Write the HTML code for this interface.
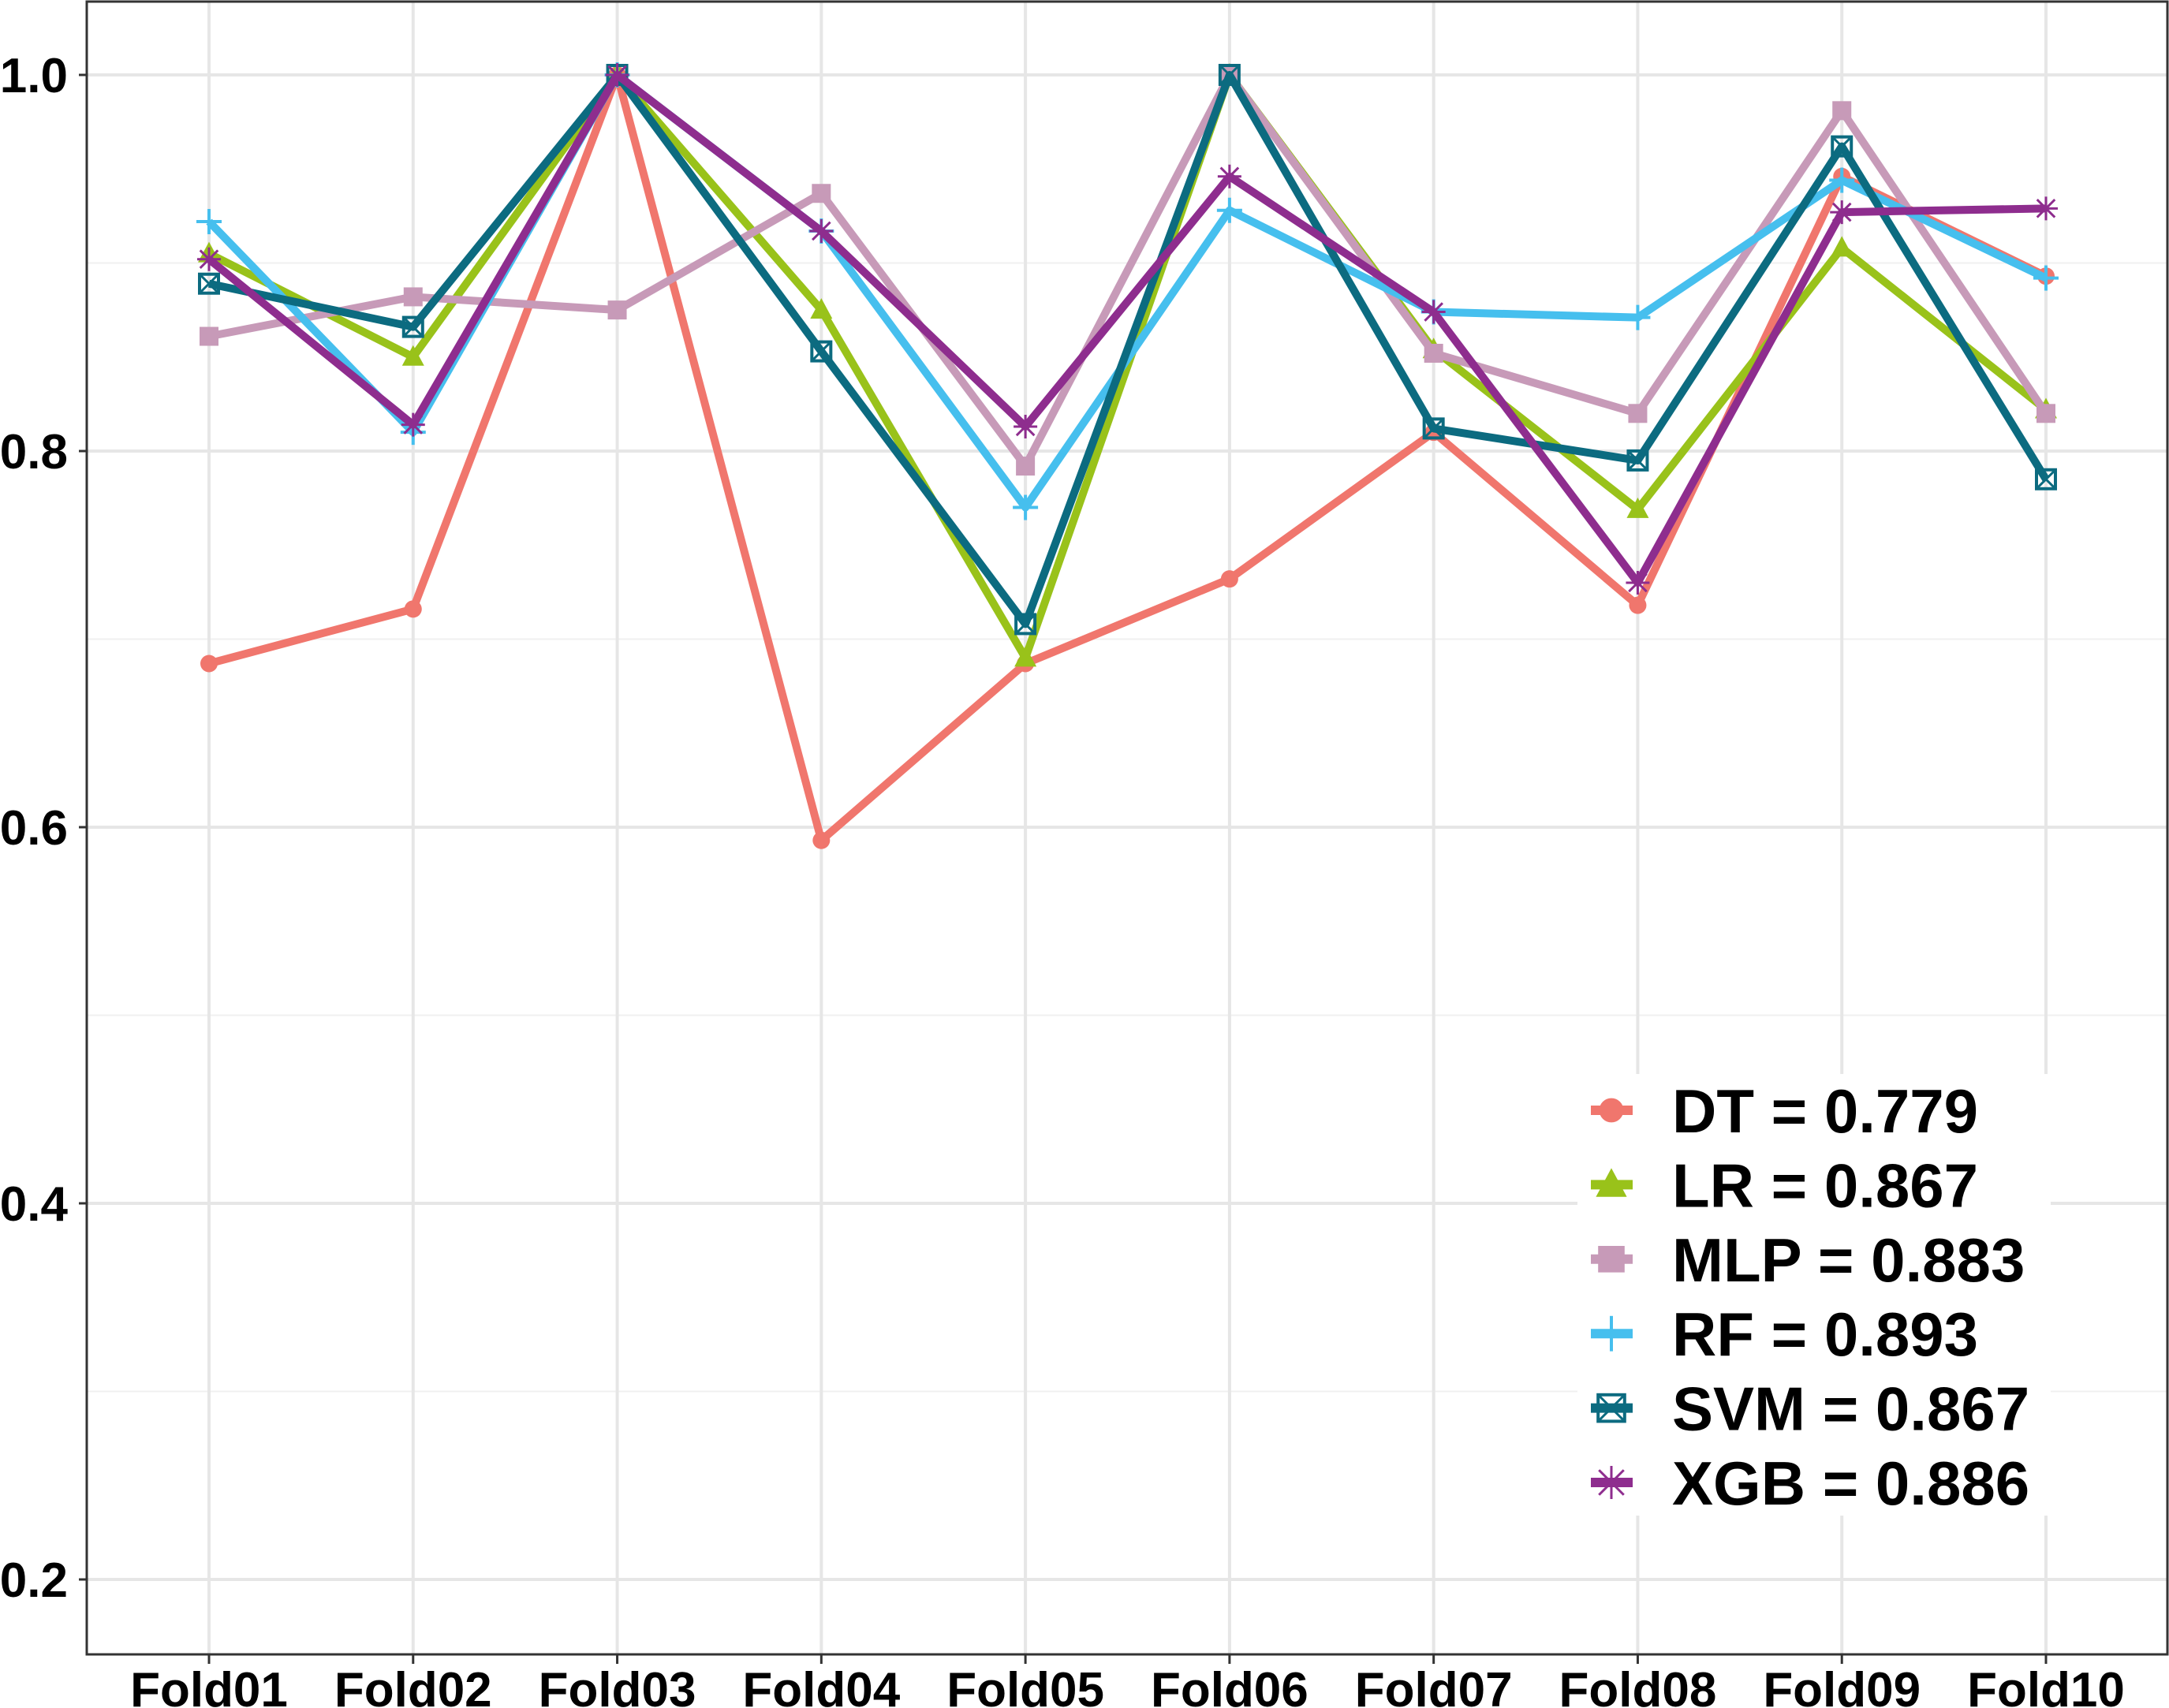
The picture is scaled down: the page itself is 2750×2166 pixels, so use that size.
<!DOCTYPE html>
<html><head><meta charset="utf-8"><style>
body{margin:0;background:#fff}
svg{display:block}
text{font-family:"Liberation Sans",Arial,sans-serif;font-weight:bold;fill:#000}
</style></head><body>
<svg id="chart" width="2750" height="2166" viewBox="0 0 2750 2166" xmlns="http://www.w3.org/2000/svg">
<g id="grid"></g>
<g id="series"></g>
<g id="axes"></g>
<g id="legend"></g>
</svg>
<script>
const categories=["Fold01","Fold02","Fold03","Fold04","Fold05","Fold06","Fold07","Fold08","Fold09","Fold10"];
const yTicks=[0.2,0.4,0.6,0.8,1.0];
const yTickLabels=["0.2","0.4","0.6","0.8","1.0"];
const yMinor=[0.3,0.5,0.7,0.9];
const seriesNames=["DT","LR","MLP","RF","SVM","XGB"];
const legendValues=["0.779","0.867","0.883","0.893","0.867","0.886"];
const dtValues=[0.687,0.716,1.0,0.593,0.687,0.732,0.810,0.718,0.946,0.893];
const lrValues=[0.905,0.850,1.0,0.875,0.690,1.0,0.854,0.769,0.908,0.822];
const mlpValues=[0.861,0.882,0.875,0.937,0.792,1.0,0.852,0.820,0.981,0.820];
const rfValues=[0.922,0.810,1.0,0.917,0.770,0.928,0.874,0.871,0.944,0.892];
const svmValues=[0.889,0.866,1.0,0.853,0.708,1.0,0.812,0.795,0.962,0.785];
const xgbValues=[0.902,0.814,1.0,0.917,0.813,0.946,0.874,0.730,0.927,0.929];
const allValues=[dtValues,lrValues,mlpValues,rfValues,svmValues,xgbValues];
const colors=["#F0766D","#99C21A","#C79AB8","#46BFEE","#0C6B80","#8E2D8E"];
const shapes=["circle","triangle","square","plus","boxx","star"];

const NS="http://www.w3.org/2000/svg";
const L=110,R=2748,T=2,B=2098;
const x=i=>265+i*(2594-265)/9;
const y=v=>2003-(v-0.2)*(2003-95)/0.8;
function mk(tag,attrs,parent){const e=document.createElementNS(NS,tag);for(const k in attrs)e.setAttribute(k,attrs[k]);parent.appendChild(e);return e;}
const grid=document.getElementById('grid'),ser=document.getElementById('series'),axes=document.getElementById('axes'),leg=document.getElementById('legend');

yMinor.forEach(v=>{const l=mk('line',{x1:L,x2:R,y1:y(v),y2:y(v),stroke:'#f0f0f0','stroke-width':2},grid);

});
yTicks.forEach((v,i)=>{const l=mk('line',{x1:L,x2:R,y1:y(v),y2:y(v),stroke:'#e6e6e6','stroke-width':4},grid);


const t=mk('line',{x1:L-10,x2:L,y1:y(v),y2:y(v),stroke:'#333','stroke-width':3},axes);


const tx=mk('text',{x:L-24,y:y(v)+22,'text-anchor':'end','font-size':62},axes);tx.textContent=yTickLabels[i];

});
categories.forEach((c,i)=>{const l=mk('line',{x1:x(i),x2:x(i),y1:T,y2:B,stroke:'#e6e6e6','stroke-width':4},grid);


const t=mk('line',{x1:x(i),x2:x(i),y1:B,y2:B+12,stroke:'#333','stroke-width':3},axes);


const tx=mk('text',{x:x(i),y:2164,'text-anchor':'middle','font-size':62},axes);tx.textContent=c;

});
const frame=mk('rect',{x:L,y:T,width:R-L,height:B-T,fill:'none',stroke:'#333','stroke-width':3},axes);



function marker(shape,cx,cy,col,g,s){
 s=s||1;
 if(shape==='circle')mk('circle',{cx,cy,r:11*s,fill:col},g);
 else if(shape==='triangle')mk('polygon',{points:`${cx},${cy-15*s} ${cx-14*s},${cy+11*s} ${cx+14*s},${cy+11*s}`,fill:col},g);
 else if(shape==='square')mk('rect',{x:cx-12*s,y:cy-12*s,width:24*s,height:24*s,fill:col},g);
 else if(shape==='plus'){mk('line',{x1:cx-16*s,x2:cx+16*s,y1:cy,y2:cy,stroke:col,'stroke-width':4},g);mk('line',{x1:cx,x2:cx,y1:cy-16*s,y2:cy+16*s,stroke:col,'stroke-width':4},g);}
 else if(shape==='boxx'){const d=12*s;mk('rect',{x:cx-d,y:cy-d,width:2*d,height:2*d,fill:'none',stroke:col,'stroke-width':4},g);mk('path',{d:`M${cx-d},${cy-d}L${cx+d},${cy+d}M${cx+d},${cy-d}L${cx-d},${cy+d}`,stroke:col,'stroke-width':3},g);}
 else if(shape==='star'){const d=15*s;mk('path',{d:`M${cx-d},${cy}L${cx+d},${cy}M${cx},${cy-d}L${cx},${cy+d}M${cx-d*.75},${cy-d*.75}L${cx+d*.75},${cy+d*.75}M${cx+d*.75},${cy-d*.75}L${cx-d*.75},${cy+d*.75}`,stroke:col,'stroke-width':3},g);}
}

allValues.forEach((vals,si)=>{
 const g=mk('g',{},ser);
 
 
 const pl=mk('polyline',{points:vals.map((v,i)=>x(i)+','+y(v)).join(' '),fill:'none',stroke:colors[si],'stroke-width':10,'stroke-linejoin':'round'},g);
 
 
 vals.forEach((v,i)=>marker(shapes[si],x(i),y(v),colors[si],g));
});

const bg=mk('rect',{x:2000,y:1362,width:600,height:560,fill:'#fff'},leg);


seriesNames.forEach((n,i)=>{
 const cy=1408+i*94.4;
 const g=mk('g',{},leg);
 
 
 mk('line',{x1:2017,x2:2070,y1:cy,y2:cy,stroke:colors[i],'stroke-width':12},g);
 marker(shapes[i],2043,cy,colors[i],g,1.4);
 const t=mk('text',{x:2120,y:cy+28,'font-size':78},g);t.textContent=n+' = '+legendValues[i];
});
</script>
</body></html>
